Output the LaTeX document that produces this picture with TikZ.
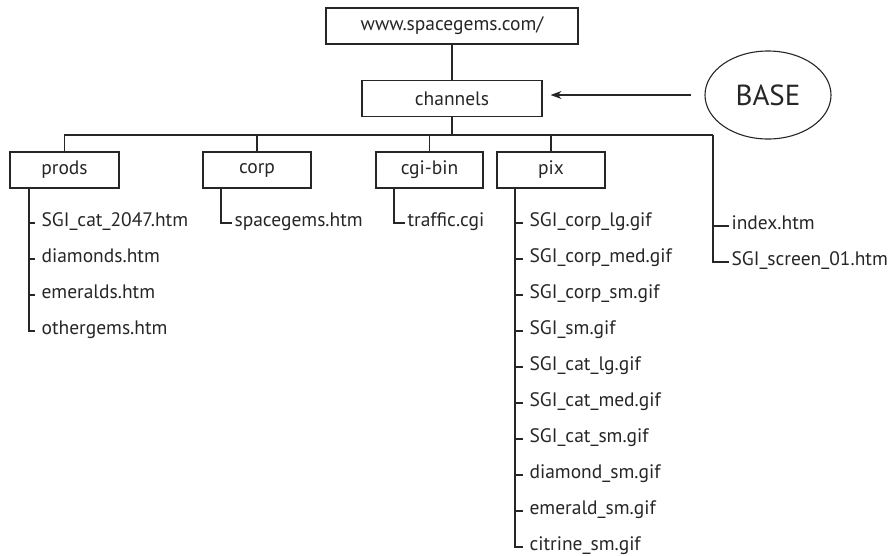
\documentclass[tikz,border=0pt]{standalone}
\usepackage{fontspec}
\setmainfont{PT Sans}
\usepackage{tikz}
\usetikzlibrary{arrows.meta,shapes.geometric}
\tikzset{
  dir/.style={draw,minimum height=36pt,inner sep=0pt,font=\fontsize{19.5}{23}\selectfont},
  leaf/.style={anchor=west,inner sep=0pt,text height=0.7em,text depth=0pt,
    font=\fontsize{19.5}{23}\selectfont},
}
% files under one folder: #1 prefix, #2 trunk, #3 text x, #4 gap, #5 first y, #6 names
\newcommand{\flist}[6]{%
  \foreach \f [count=\k] in {#6}{%
    \node[leaf] (#1\k) at (#3,{#5+36*(\k-1)}) {\f};
    \draw[shorten >=#4] (#2) |- (#1\k.west);}}

\begin{document}
\begin{tikzpicture}[x=1pt,y=-1pt,line width=1.1pt,color=black!85]
  \useasboundingbox (0,0) rectangle (894,555);
  % folders
  \node[dir,minimum width=252pt] (www) at (452,26) {www.spacegems.com/};
  \node[dir,minimum width=180pt] (chan) at (452,98.5) {channels};
  \node[draw,ellipse,minimum width=126pt,minimum height=88pt,inner sep=0pt,
    font=\fontsize{29}{32}\selectfont] (base) at (768,95) {BASE};
  \node[dir,minimum width=109pt] (prods) at (64.5,170) {prods};
  \node[dir,minimum width=108pt] (corp) at (257,170) {corp};
  \node[dir,minimum width=107pt] (cgi) at (429.5,170) {cgi-bin};
  \node[dir,minimum width=108pt] (pix) at (551,170) {pix};
  \draw (www) -- (chan);
  \draw[-{Stealth[length=11pt,width=8pt]},shorten <=13pt,shorten >=8pt]
    (base.west) -- (chan.east |- base.west);
  % bus
  \coordinate (bus) at (452,135);
  \coordinate (rootT) at (713,135);
  \draw (chan) -- (bus);
  \draw (prods.north) |- (rootT);
  \foreach \d in {corp,cgi,pix}{\draw (\d.north) -- (\d.north |- bus);}
  % trunks
  \coordinate (prodsT) at (29,188);
  \coordinate (corpT) at (221,188);
  \coordinate (cgiT) at (394,188);
  \coordinate (pixT) at (515,188);
  \flist{p}{prodsT}{41}{6}{223}{SGI\_cat\_2047.htm,diamonds.htm,emeralds.htm,othergems.htm}
  \flist{c}{corpT}{234}{2}{223}{spacegems.htm}
  \flist{g}{cgiT}{407}{2}{223}{traffic.cgi}
  \flist{x}{pixT}{529}{6}{223}{SGI\_corp\_lg.gif,SGI\_corp\_med.gif,SGI\_corp\_sm.gif,
    SGI\_sm.gif,SGI\_cat\_lg.gif,SGI\_cat\_med.gif,SGI\_cat\_sm.gif,diamond\_sm.gif,
    emerald\_sm.gif,citrine\_sm.gif}
  \flist{r}{rootT}{731}{2}{226}{index.htm,SGI\_screen\_01.htm}
\end{tikzpicture}
\end{document}
